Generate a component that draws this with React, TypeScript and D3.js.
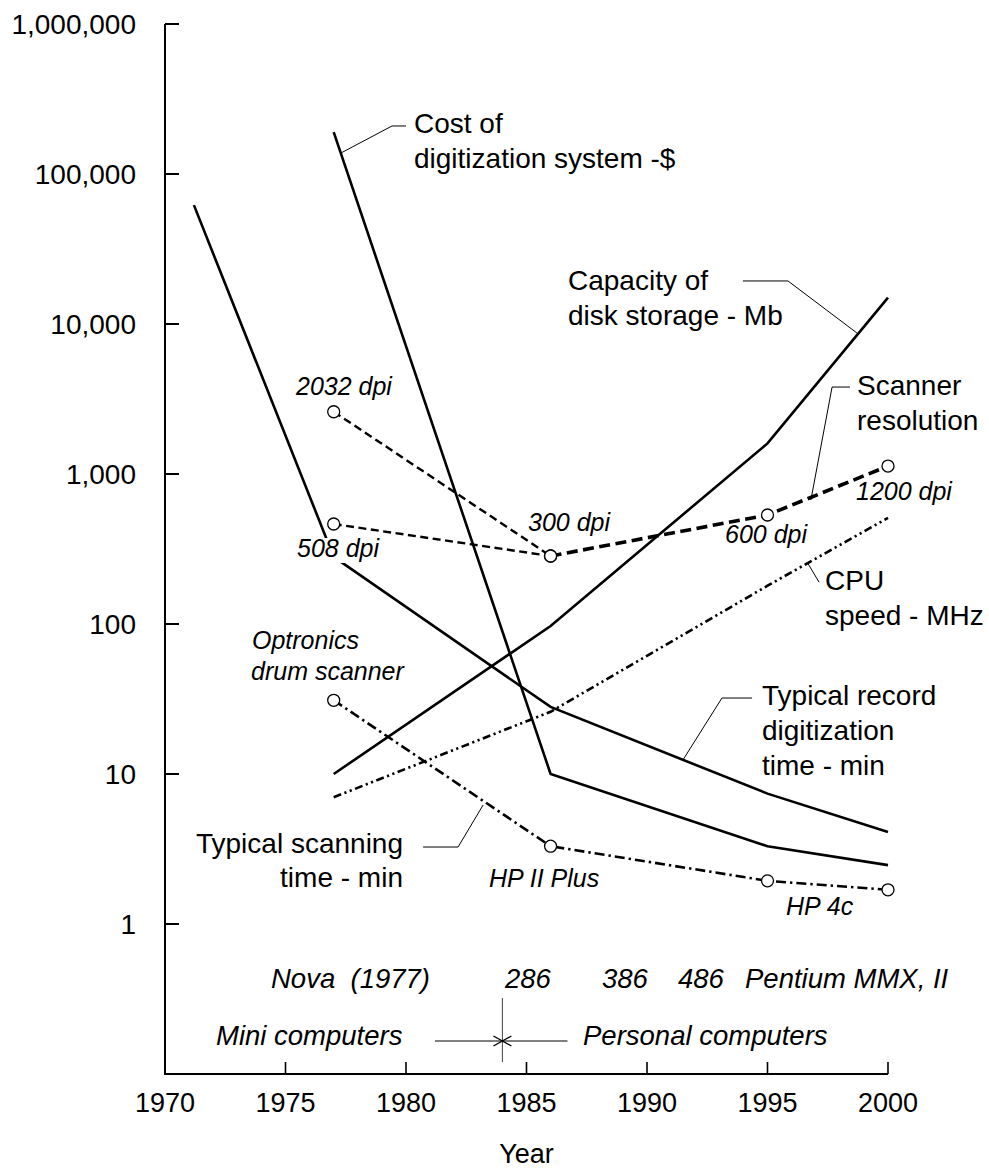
import React from 'react';
import * as d3 from 'd3';

const W = 989;
const H = 1170;

// ---- data ----
const yearTicks = [1970, 1975, 1980, 1985, 1990, 1995, 2000];
const valueTicks = [1, 10, 100, 1000, 10000, 100000, 1000000];
const valueTickLabels = ['1', '10', '100', '1,000', '10,000', '100,000', '1,000,000'];

const costYears = [1977, 1986, 1995, 2000];
const costValues = [190000, 10, 3.3, 2.47];

const recordYears = [1971.2, 1977, 1986, 1995, 2000];
const recordValues = [62000, 280, 28, 7.4, 4.1];

const diskYears = [1977, 1986, 1995, 2000];
const diskValues = [10, 97, 1600, 15000];

const cpuYears = [1977, 1986, 1995, 2000];
const cpuValues = [7, 26, 180, 510];

const scanTimeYears = [1977, 1986, 1995, 2000];
const scanTimeValues = [31, 3.3, 1.94, 1.69];

const resHighYears = [1977, 1986];
const resHighValues = [2600, 284];
const resLowYears = [1977, 1986];
const resLowValues = [464, 284];
const resModernYears = [1986, 1995, 2000];
const resModernValues = [284, 533, 1130];

const eraSplitYear = 1984;
const eraArrowFrom = [1981.2, 1986.7];

// callout leader lines in data coordinates [year, value]
const calloutCost: [number, number][] = [[1977.3, 138000], [1979.42, 209000], [1980.0, 209000]];
const calloutDisk: [number, number][] = [[1998.71, 8710], [1995.85, 19360], [1993.98, 19360]];
const calloutRes: [number, number][] = [[1998.42, 3800], [1997.68, 3800], [1996.8, 671]];
const calloutCpu: [number, number][] = [[1996.64, 259], [1997.14, 190]];
const calloutRecord: [number, number][] = [[1994.36, 32.1], [1993.11, 32.1], [1991.49, 12.4]];
const calloutScan: [number, number][] = [[1980.71, 3.26], [1982.16, 3.26], [1983.2, 6.21]];

const FONT = '"Liberation Sans", Arial, Helvetica, sans-serif';

const zip = (a: number[], b: number[]) => a.map((v, i) => [v, b[i]] as [number, number]);

export default function App() {
  const x = d3.scaleLinear().domain([1970, 2000]).range([165, 888]);
  const y = d3.scaleLog().domain([0.1, 1e6]).range([1074, 24]);
  const line = d3
    .line<[number, number]>()
    .x((d) => x(d[0]))
    .y((d) => y(d[1]));

  const axisY = y(0.1);
  const axisX = x(1970);

  const annot = (lines: string[], x0: number, y0: number, key: string, anchor = 'start', dy = 34.5) => (
    <text key={key} x={x0} y={y0} fontSize={28} textAnchor={anchor} fontFamily={FONT}>
      {lines.map((t, i) => (
        <tspan key={i} x={x0} dy={i === 0 ? 0 : dy}>
          {t}
        </tspan>
      ))}
    </text>
  );

  const ital = (t: string, x0: number, y0: number, key: string, size = 25) => (
    <text key={key} x={x0} y={y0} fontSize={size} fontStyle="italic" fontFamily={FONT} style={{ whiteSpace: 'pre' }}>
      {t}
    </text>
  );

  const circles = (ys: number[], vs: number[], key: string) =>
    zip(ys, vs).map((d, i) => (
      <circle key={key + i} cx={x(d[0])} cy={y(d[1])} r={6} fill="#fff" stroke="#000" strokeWidth={1.3} />
    ));

  const splitX = x(eraSplitYear);

  return (
    <svg
      width={W}
      height={H}
      viewBox={`0 0 ${W} ${H}`}
      style={{ position: 'absolute', left: 0, top: 0, background: '#fff' }}
    >
      <rect x={0} y={0} width={W} height={H} fill="#fff" />

      {/* axes */}
      <line x1={axisX} y1={y(1e6)} x2={axisX} y2={axisY} stroke="#000" strokeWidth={2} />
      <line x1={axisX - 1} y1={axisY} x2={x(2000)} y2={axisY} stroke="#000" strokeWidth={2} />
      {valueTicks.map((v, i) => (
        <g key={'yt' + v}>
          <line x1={axisX} x2={axisX + 14} y1={y(v)} y2={y(v)} stroke="#000" strokeWidth={2} />
          <text x={136} y={y(v)} dy="0.35em" textAnchor="end" fontSize={28} fontFamily={FONT}>
            {valueTickLabels[i]}
          </text>
        </g>
      ))}
      {yearTicks.map((t) => (
        <g key={'xt' + t}>
          <line x1={x(t)} x2={x(t)} y1={axisY} y2={axisY - 12} stroke="#000" strokeWidth={1.6} />
          <text x={x(t)} y={axisY + 38} textAnchor="middle" fontSize={27} fontFamily={FONT}>
            {t}
          </text>
        </g>
      ))}
      <text x={(x(1970) + x(2000)) / 2} y={1163} textAnchor="middle" fontSize={27} fontFamily={FONT}>
        Year
      </text>

      {/* data lines */}
      <path d={line(zip(recordYears, recordValues)) || ''} fill="none" stroke="#000" strokeWidth={2.6} />
      <path d={line(zip(costYears, costValues)) || ''} fill="none" stroke="#000" strokeWidth={2.6} />
      <path d={line(zip(diskYears, diskValues)) || ''} fill="none" stroke="#000" strokeWidth={2.6} />
      <path
        d={line(zip(cpuYears, cpuValues)) || ''}
        fill="none"
        stroke="#000"
        strokeWidth={2.6}
        strokeDasharray="8,3.5,2.2,3.5,2.2,3.5"
      />
      <path
        d={line(zip(scanTimeYears, scanTimeValues)) || ''}
        fill="none"
        stroke="#000"
        strokeWidth={2.6}
        strokeDasharray="10,4,2.4,4"
      />
      <path
        d={line(zip(resHighYears, resHighValues)) || ''}
        fill="none"
        stroke="#000"
        strokeWidth={2.4}
        strokeDasharray="8,4.5"
      />
      <path
        d={line(zip(resLowYears, resLowValues)) || ''}
        fill="none"
        stroke="#000"
        strokeWidth={2.4}
        strokeDasharray="8,4.5"
      />
      <path
        d={line(zip(resModernYears, resModernValues)) || ''}
        fill="none"
        stroke="#000"
        strokeWidth={3.6}
        strokeDasharray="11,5.5"
      />

      {/* callouts */}
      {[calloutCost, calloutDisk, calloutRes, calloutCpu, calloutRecord, calloutScan].map((c, i) => (
        <path key={'co' + i} d={line(c) || ''} fill="none" stroke="#000" strokeWidth={1} />
      ))}

      {/* markers */}
      {circles(resHighYears, resHighValues, 'rh')}
      {circles(resLowYears.slice(0, 1), resLowValues.slice(0, 1), 'rl')}
      {circles(resModernYears, resModernValues, 'rm')}
      {circles(scanTimeYears, scanTimeValues, 'st')}

      {/* series annotations */}
      {annot(['Cost of', 'digitization system -$'], 414, 133, 'a1')}
      {annot(['Capacity of', 'disk storage - Mb'], 568, 290, 'a2')}
      {annot(['Scanner', 'resolution'], 857, 395, 'a3')}
      {annot(['CPU', 'speed - MHz'], 825, 590, 'a4', 'start', 35)}
      {annot(['Typical record', 'digitization', 'time - min'], 762, 705, 'a5', 'start', 35)}
      {annot(['Typical scanning', 'time - min'], 403, 853, 'a6', 'end', 34)}

      {/* point labels */}
      {ital('2032 dpi', 296, 395, 'l1')}
      <rect x={295} y={538} width={86} height={25} fill="#fff" />
      {ital('508 dpi', 297, 557, 'l2')}
      {ital('300 dpi', 528, 531, 'l3')}
      {ital('600 dpi', 725, 543, 'l4')}
      {ital('1200 dpi', 856, 500, 'l5')}
      {ital('Optronics', 252, 649, 'l6')}
      {ital('drum scanner', 251, 680, 'l7')}
      {ital('HP II Plus', 489, 887, 'l8')}
      {ital('HP 4c', 786, 915, 'l9')}

      {/* computer eras */}
      {ital('Nova  (1977)', 271, 988, 'c1', 27.5)}
      {ital('286', 505, 988, 'c2', 27.5)}
      {ital('386', 602, 988, 'c3', 27.5)}
      {ital('486', 678, 988, 'c4', 27.5)}
      {ital('Pentium MMX, II', 745, 988, 'c5', 27.5)}
      {ital('Mini computers', 216, 1045, 'c6', 27.5)}
      {ital('Personal computers', 583, 1045, 'c7', 27.5)}

      <line x1={splitX} x2={splitX} y1={998} y2={1062} stroke="#444" strokeWidth={1} />
      <line x1={x(eraArrowFrom[0])} x2={splitX} y1={1041} y2={1041} stroke="#000" strokeWidth={1} />
      <line x1={x(eraArrowFrom[1])} x2={splitX} y1={1041} y2={1041} stroke="#000" strokeWidth={1} />
      <path
        d={`M${splitX - 9},${1036} L${splitX},${1041} L${splitX - 9},${1046} M${splitX + 9},${1036} L${splitX},${1041} L${splitX + 9},${1046}`}
        fill="none"
        stroke="#000"
        strokeWidth={1.3}
      />
    </svg>
  );
}
